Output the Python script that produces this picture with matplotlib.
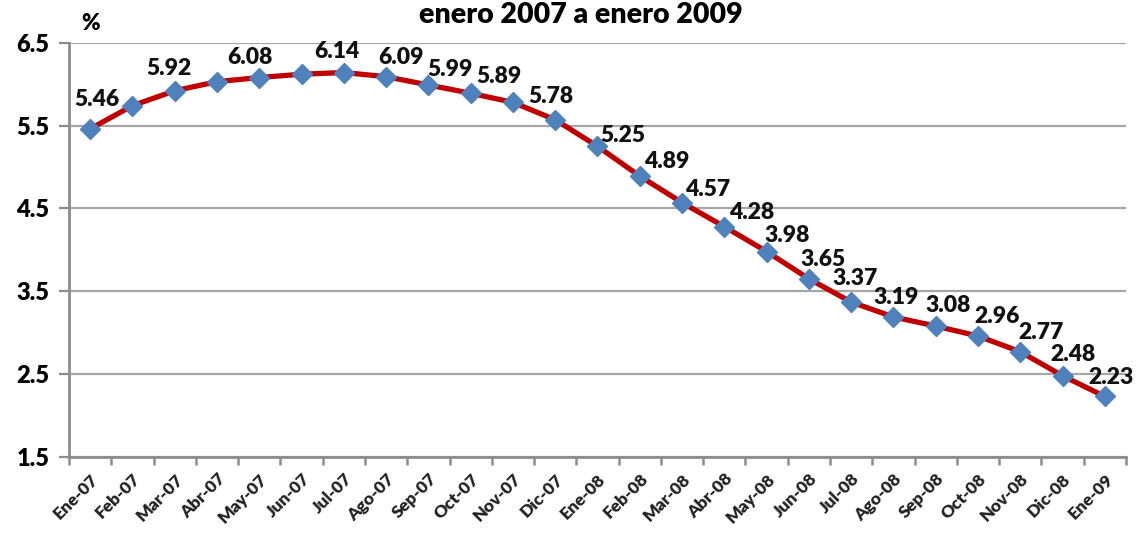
import matplotlib
matplotlib.use('Agg')
import matplotlib.pyplot as plt
import numpy as np

plt.rcParams['font.family'] = ['Lato', 'DejaVu Sans']
plt.rcParams['font.weight'] = 'bold'

# datos
meses = ['Ene-07', 'Feb-07', 'Mar-07', 'Abr-07', 'May-07', 'Jun-07', 'Jul-07',
         'Ago-07', 'Sep-07', 'Oct-07', 'Nov-07', 'Dic-07', 'Ene-08', 'Feb-08',
         'Mar-08', 'Abr-08', 'May-08', 'Jun-08', 'Jul-08', 'Ago-08', 'Sep-08',
         'Oct-08', 'Nov-08', 'Dic-08', 'Ene-09']
tasa = [5.46, 5.74, 5.92, 6.03, 6.08, 6.12, 6.14, 6.09, 5.99, 5.89, 5.78, 5.57,
        5.25, 4.89, 4.57, 4.28, 3.98, 3.65, 3.37, 3.19, 3.08, 2.96, 2.77, 2.48, 2.23]
# etiquetas visibles (None = sin etiqueta)
etiquetas = ['5.46', None, '5.92', None, '6.08', None, '6.14', '6.09', '5.99',
             '5.89', '5.78', None, '5.25', '4.89', '4.57', '4.28', '3.98',
             '3.65', '3.37', '3.19', '3.08', '2.96', '2.77', '2.48', '2.23']
y_ticks = [1.5, 2.5, 3.5, 4.5, 5.5, 6.5]

# desplazamiento de cada etiqueta (px)
offsets = [(7, 29), None, (-6, 22), None, (-9, 20), None, (-7, 21), (15, 19),
           (22, 15), (28, 17), (38, 6), None, (25, 11), (27, 15), (26, 13),
           (27, 14), (21, 16), (14, 19), (4, 24), (3, 19), (12, 21), (19, 20),
           (21, 19), (10, 21), (6, 19)]

fig = plt.figure(figsize=(11.37, 5.38), dpi=100)
ax = fig.add_axes([0.0607, 0.1506, 0.9296, 0.7700])

x = np.arange(len(meses))
ax.plot(x, tasa, color='#C00000', lw=3.8, zorder=3, solid_capstyle='round')
ax.plot(x, tasa, ls='none', marker='D', ms=10.5, color='#4F81BD',
        mec='#4F81BD', zorder=4)

px = 72 / 100
for i, lab in enumerate(etiquetas):
    if lab is None:
        continue
    dx, dy = offsets[i]
    ax.annotate(lab, (x[i], tasa[i]), xytext=(dx * px, dy * px),
                textcoords='offset points', ha='center', va='center',
                fontsize=16.5, fontweight='heavy', color='#111111', zorder=5)

ax.set_xlim(-0.5, len(meses) - 0.5)
ax.set_ylim(1.5, 6.5)
ax.set_yticks(y_ticks)
ax.set_yticklabels([f'{v:.1f}' for v in y_ticks], fontsize=17, fontweight='heavy')
ax.yaxis.grid(True, color='#A6A6A6', lw=1.6)
ax.set_axisbelow(True)

ax.set_xticks(x)
ax.set_xticklabels(meses, rotation=45, ha='right', va='top',
                   rotation_mode='anchor', fontsize=12.5, fontweight='heavy',
                   color='#222222')
ax.set_xticks(np.arange(-0.5, len(meses)), minor=True)
ax.tick_params(axis='x', which='major', length=0, pad=10)
ax.tick_params(axis='x', which='minor', length=6, width=1.8, color='#8C8C8C')
ax.tick_params(axis='y', length=7, width=1.6, color='#8C8C8C', pad=7)

for s in ['top', 'right']:
    ax.spines[s].set_visible(False)
for s in ['left', 'bottom']:
    ax.spines[s].set_color('#8C8C8C')
    ax.spines[s].set_linewidth(2)

fig.text(0.08, 1 - 24 / 538, '%', fontsize=16, fontweight='heavy',
         ha='center', va='center')
fig.text(0.511, 1 - 15 / 538, 'enero 2007 a enero 2009', fontsize=20.5,
         fontweight='heavy', ha='center', va='center')

fig.savefig('out.png', dpi=100)
